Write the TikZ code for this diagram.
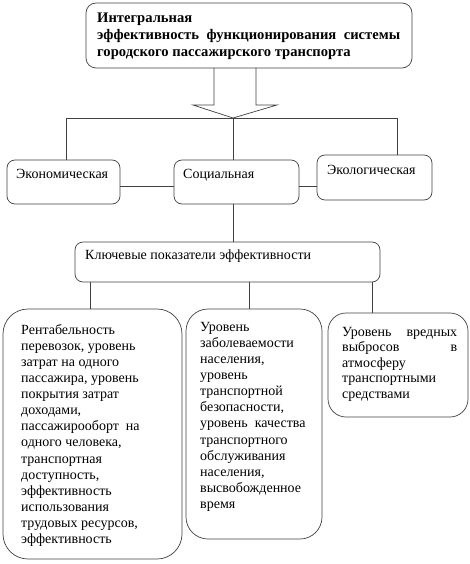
\documentclass[tikz,border=0pt]{standalone}
\usepackage{fontspec}
\setmainfont{Liberation Serif}
\usepackage{tikz}
\tikzstyle{block} = [rectangle, draw=black!75, line width=0.7pt, inner sep=0pt,
outer sep=0pt, anchor=north west, rounded corners=8pt]
\tikzstyle{caption} = [inner sep=0pt, anchor=north west, align=left,
font=\fontsize{14}{16.1}\selectfont]
\tikzstyle{title} = [caption, align=justify, font=\bfseries\fontsize{14.6}{17}\selectfont]
\tikzstyle{link} = [draw=black!75, line width=0.7pt]
\newcommand{\block}[8][]{ %
  % Box #2 with its upper left corner at #3 and the size #4 x #5.
  \node[block, minimum width=#4, minimum height=#5, #1] (#2) at #3 {} ; %
  % Its text #8 with the upper left corner at #6, in the style #7.
  \node[#7] (#2-text) at #6 {#8} ; %
}
\begin{document}
\begin{tikzpicture}[x=1pt,y=-1pt]

	\useasboundingbox (0,0) rectangle (470,564);

	\block[rounded corners=10pt] {integral} {(86,3)} {326pt} {65pt} {(97,13)}
	  {title, text width=303pt}
	  {Интегральная\\ эффективность функционирования системы\linebreak
	   городского пассажирского транспорта};

	\block {kind0} {(7,160)} {113pt} {44pt} {(16,169)} {caption} {Экономическая};
	\block {kind1} {(174,160)} {125pt} {44pt} {(183,169)} {caption} {Социальная};
	\block {kind2} {(317,155)} {115pt} {45pt} {(327,165)} {caption} {Экологическая};

	\block {keys} {(75,242)} {305pt} {40pt} {(85,250)} {caption}
	  {Ключевые показатели эффективности};

	\block[rounded corners=25pt] {index0} {(3,309)} {179pt} {250pt} {(21,324)} {caption}
	  {Рентабельность\\ перевозок, уровень\\ затрат на одного\\ пассажира, уровень\\
	   покрытия затрат\\ доходами,\\ пассажирооборт\ \ на\\ одного человека,\\
	   транспортная\\ доступность,\\ эффективность\\ использования\\
	   трудовых ресурсов,\\ эффективность};
	\block[rounded corners=22pt] {index1} {(186,309)} {136pt} {230pt} {(200,322)} {caption}
	  {Уровень\\ заболеваемости\\ населения,\\ уровень\\ транспортной\\ безопасности,\\
	   уровень\ \ качества\\ транспортного\\ обслуживания\\ населения,\\
	   высвобожденное\\ время};
	\block[rounded corners=18pt] {index2} {(328,313)} {140pt} {104pt} {(342,327)}
	  {caption, align=justify, text width=115pt, font=\fontsize{14}{15.5}\selectfont}
	  {Уровень вредных\linebreak выбросов в\linebreak атмосферу\\ транспортными\\ средствами};

	% hollow arrow from the top box down to the bus
	\coordinate (split) at (233,118);
	\coordinate (busL) at (66,118);
	\coordinate (busR) at (397,118);
	\draw[link] (214,0 |- integral.south) -- (214,105) -- (193,105) -- (split)
	  -- (277,105) -- (256,105) -- (256,0 |- integral.south);

	\draw[link] (busL) -- (busR);
	\draw[link] (busL) -- (busL |- kind0.north);
	\draw[link] (split) -- (split |- kind1.north);
	\draw[link] (busR) -- (busR |- kind2.north);

	\draw[link] ([yshift=-4pt]kind0.east) -- ([yshift=-4pt]kind0.east -| kind1.west);
	\draw[link] ([yshift=-4pt]kind1.east) -- ([yshift=-4pt]kind1.east -| kind2.west);

	\draw[link] (split |- kind1.south) -- (split |- keys.north);

	\coordinate (drop0) at (90,300);
	\coordinate (drop1) at (249,300);
	\coordinate (drop2) at (372,300);
	\draw[link] (drop0 |- keys.south) -- (drop0 |- index0.north);
	\draw[link] (drop1 |- keys.south) -- (drop1 |- index1.north);
	\draw[link] (drop2 |- keys.south) -- (drop2 |- index2.north);

\end{tikzpicture}
\end{document}
